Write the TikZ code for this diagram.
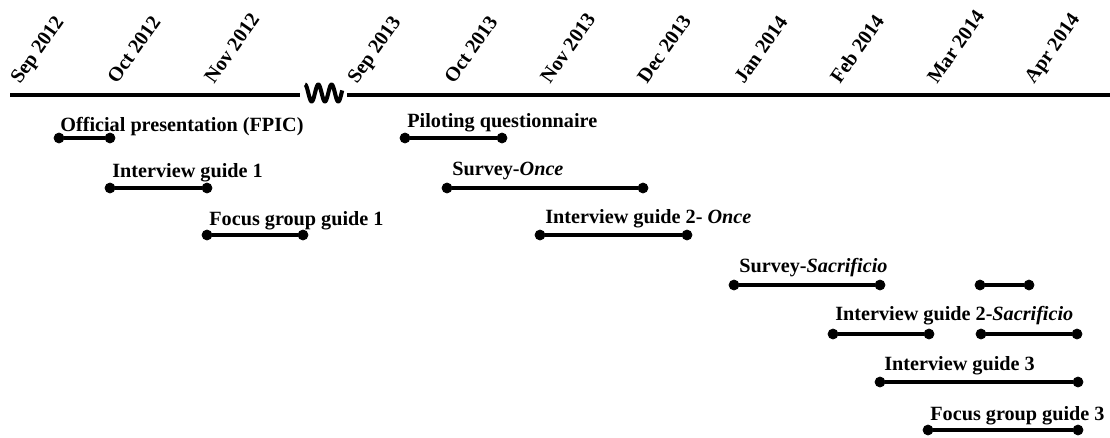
\documentclass[tikz,border=0pt]{standalone}
\usepackage{fontspec}
\setmainfont{Liberation Serif}
\begin{document}
\begin{tikzpicture}[x=0.02cm, y=-0.02cm, font=\fontsize{11.5}{13}\selectfont\bfseries]
\useasboundingbox (0,0) rectangle (1110,437);
% time axis with break
\coordinate (ax1) at (10,95);
\coordinate (ax2) at (300,95);
\coordinate (ax3) at (347,95);
\coordinate (ax4) at (1110,95);
\draw[line width=2.2pt] (ax1) -- (ax2);
\draw[line width=2.2pt] (ax3) -- (ax4);
\draw[line width=2.3pt, line join=round] plot[domain=0:2.8, samples=90, smooth] ({305+13.3*\x}, {93-8.5*cos(360*\x)});
% months
\begin{scope}[every node/.style={rotate=55, anchor=base west, inner sep=0cm}]
    \node (m1) at (20,85) {Sep 2012};
    \node (m2) at (117,85) {Oct 2012};
    \node (m3) at (214,85) {Nov 2012};
    \node (m4) at (357,85) {Sep 2013};
    \node (m5) at (454,85) {Oct 2013};
    \node (m6) at (550,85) {Nov 2013};
    \node (m7) at (647,85) {Dec 2013};
    \node (m8) at (744,85) {Jan 2014};
    \node (m9) at (840,85) {Feb 2014};
    \node (m10) at (937,85) {Mar 2014};
    \node (m11) at (1034,85) {Apr 2014};
\end{scope}
% end points of the activities
\begin{scope}[every node/.style={circle, fill, draw, inner sep=0cm, minimum size=0.2cm}]
    \node (a1) at (59,138) {};
    \node (b1) at (110,138) {};
    \node (a2) at (110,188) {};
    \node (b2) at (207,188) {};
    \node (a3) at (207,235) {};
    \node (b3) at (303,235) {};
    \node (a4) at (405,138) {};
    \node (b4) at (502,138) {};
    \node (a5) at (447,188) {};
    \node (b5) at (643,188) {};
    \node (a6) at (540,235) {};
    \node (b6) at (687,235) {};
    \node (a7) at (734,285) {};
    \node (b7) at (880,285) {};
    \node (a8) at (980,285) {};
    \node (b8) at (1029,285) {};
    \node (a9) at (833,334) {};
    \node (b9) at (929,334) {};
    \node (a10) at (981,334) {};
    \node (b10) at (1077,334) {};
    \node (a11) at (880,382) {};
    \node (b11) at (1078,382) {};
    \node (a12) at (928,430) {};
    \node (b12) at (1078,430) {};
\end{scope}
% activity names
\begin{scope}[every node/.style={anchor=base west, inner sep=0cm}]
    \node (t1) at (60,131) {Official presentation (FPIC)};
    \node (t2) at (112,177) {Interview guide 1};
    \node (t3) at (209,225) {Focus group guide 1};
    \node (t4) at (407,127) {Piloting questionnaire};
    \node (t5) at (452,175) {Survey-\textit{Once}};
    \node (t6) at (545,223) {Interview guide 2- \textit{Once}};
    \node (t7) at (739,272) {Survey-\textit{Sacrificio}};
    \node (t9) at (835,320) {Interview guide 2-\textit{Sacrificio}};
    \node (t11) at (884,370) {Interview guide 3};
    \node (t12) at (930,420) {Focus group guide 3};
\end{scope}
\begin{scope}[every edge/.style={draw=black, line width=1.8pt}]
    \path (a1) edge (b1);
    \path (a2) edge (b2);
    \path (a3) edge (b3);
    \path (a4) edge (b4);
    \path (a5) edge (b5);
    \path (a6) edge (b6);
    \path (a7) edge (b7);
    \path (a8) edge (b8);
    \path (a9) edge (b9);
    \path (a10) edge (b10);
    \path (a11) edge (b11);
    \path (a12) edge (b12);
\end{scope}
\end{tikzpicture}
\end{document}
